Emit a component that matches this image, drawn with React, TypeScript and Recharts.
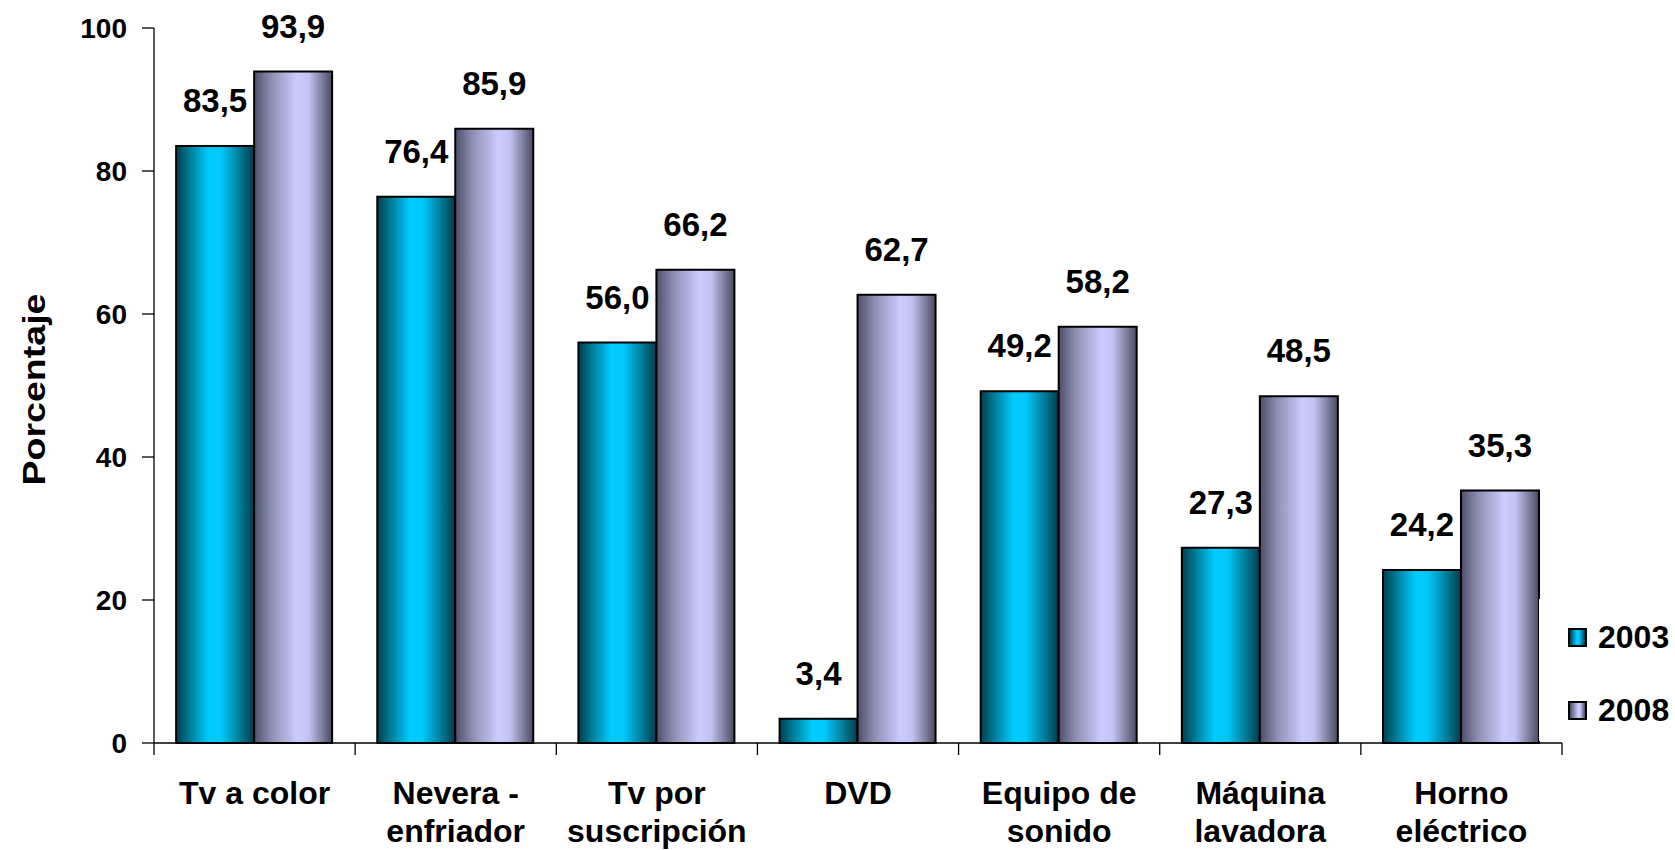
import React from "react";
import { BarChart, Bar, XAxis, YAxis, LabelList, Legend } from "recharts";

const categories = [
  "Tv a color",
  "Nevera -\nenfriador",
  "Tv por\nsuscripción",
  "DVD",
  "Equipo de\nsonido",
  "Máquina\nlavadora",
  "Horno\neléctrico",
];
const values2003 = [83.5, 76.4, 56.0, 3.4, 49.2, 27.3, 24.2];
const values2008 = [93.9, 85.9, 66.2, 62.7, 58.2, 48.5, 35.3];
const seriesNames = ["2003", "2008"];
const yTicks = [0, 20, 40, 60, 80, 100];

const data = categories.map((name, i) => ({
  name,
  y2003: values2003[i],
  y2008: values2008[i],
}));

const FONT = "'Liberation Sans', Arial, sans-serif";
const W = 1675;
const H = 850;
const Y_AXIS_W = 154;
const MARGIN = { top: 28, right: 113, left: 0, bottom: 0 };
const BAND = (W - MARGIN.right - Y_AXIS_W) / categories.length;

const fmt = (v: any) => Number(v).toFixed(1).replace(".", ",");

const XTick = (props: any) => {
  const { x, y, payload, index } = props;
  const lines = String(payload.value).split("\n");
  const half = BAND / 2;
  return (
    <g>
      <line x1={x - half} x2={x - half} y1={y} y2={y + 12} stroke="#000" strokeWidth={1.3} />
      {index === categories.length - 1 && (
        <line x1={x + half} x2={x + half} y1={y} y2={y + 12} stroke="#000" strokeWidth={1.3} />
      )}
      <text
        x={x}
        y={y + 61}
        textAnchor="middle"
        fill="#000"
        fontFamily={FONT}
        fontWeight="bold"
        fontSize={32}
      >
        {lines.map((l, i) => (
          <tspan key={i} x={x} dy={i === 0 ? 0 : 38}>
            {l}
          </tspan>
        ))}
      </text>
    </g>
  );
};

const YLabel = (props: any) => {
  const vb = props.viewBox || { x: 0, y: 28, width: 154, height: 715 };
  const cx = vb.x + 34;
  const cy = vb.y + vb.height / 2 + 4;
  return (
    <text
      transform={`translate(${cx}, ${cy}) rotate(-90)`}
      textAnchor="middle"
      dominantBaseline="central"
      fill="#000"
      fontFamily={FONT}
      fontWeight="bold"
      fontSize={31}
      textLength={192}
      lengthAdjust="spacingAndGlyphs"
    >
      Porcentaje
    </text>
  );
};

const legendFills = [
  "linear-gradient(to right, #003f4e, #00ccff 45%, #00ccff 60%, #003a48)",
  "linear-gradient(to right, #4e4e6a, #ccccff 55%, #c4c4f4 68%, #4a4a62)",
];

const LegendBox = () => (
  <div
    style={{
      fontFamily: FONT,
      background: "#fff",
      height: 142,
      boxSizing: "border-box",
      paddingLeft: 29,
      paddingTop: 20,
    }}
  >
    {seriesNames.map((s, i) => (
      <div
        key={s}
        style={{
          display: "flex",
          alignItems: "center",
          height: 37,
          marginBottom: 36,
        }}
      >
        <div
          style={{
            width: 15,
            height: 15,
            border: "2px solid #000",
            background: legendFills[i],
            marginRight: 11,
            flexShrink: 0,
          }}
        />
        <span style={{ fontSize: 32, fontWeight: "bold", color: "#000", whiteSpace: "nowrap" }}>{s}</span>
      </div>
    ))}
  </div>
);

export default function App() {
  return (
    <div
      style={{
        position: "absolute",
        left: 0,
        top: 0,
        width: W,
        height: H,
        overflow: "hidden",
        background: "#fff",
        fontFamily: FONT,
      }}
    >
      <BarChart width={W} height={H} data={data} margin={MARGIN} barCategoryGap="11%" barGap={0}>
        <defs>
          <linearGradient id="g2003" x1="0" y1="0" x2="1" y2="0">
            <stop offset="0%" stopColor="#003f4e" />
            <stop offset="15%" stopColor="#00748e" />
            <stop offset="42%" stopColor="#00ccff" />
            <stop offset="58%" stopColor="#00c8fa" />
            <stop offset="85%" stopColor="#00708a" />
            <stop offset="100%" stopColor="#003a48" />
          </linearGradient>
          <linearGradient id="g2008" x1="0" y1="0" x2="1" y2="0">
            <stop offset="0%" stopColor="#4e4e6a" />
            <stop offset="22%" stopColor="#8e8eb4" />
            <stop offset="55%" stopColor="#ccccff" />
            <stop offset="70%" stopColor="#c2c2f2" />
            <stop offset="88%" stopColor="#7a7a9a" />
            <stop offset="100%" stopColor="#4a4a62" />
          </linearGradient>
        </defs>
        <XAxis
          dataKey="name"
          height={107}
          axisLine={{ stroke: "#000", strokeWidth: 1.3 }}
          tickLine={false}
          tickSize={0}
          tickMargin={0}
          interval={0}
          tick={<XTick />}
        />
        <YAxis
          width={Y_AXIS_W}
          domain={[0, 100]}
          ticks={yTicks}
          interval={0}
          axisLine={{ stroke: "#000", strokeWidth: 1.3 }}
          tickLine={{ stroke: "#000", strokeWidth: 1.3 }}
          tickSize={12}
          tickMargin={15}
          tick={{ fill: "#000", fontSize: 28, fontWeight: "bold", fontFamily: FONT }}
          label={<YLabel />}
        />
        <Bar
          dataKey="y2003"
          name={seriesNames[0]}
          fill="url(#g2003)"
          stroke="#000"
          strokeWidth={2}
          isAnimationActive={false}
        >
          <LabelList
            dataKey="y2003"
            position="top"
            offset={34}
            formatter={fmt}
            fill="#000"
            fontSize={33}
            fontWeight="bold"
            fontFamily={FONT}
          />
        </Bar>
        <Bar
          dataKey="y2008"
          name={seriesNames[1]}
          fill="url(#g2008)"
          stroke="#000"
          strokeWidth={2}
          isAnimationActive={false}
        >
          <LabelList
            dataKey="y2008"
            position="top"
            offset={34}
            formatter={fmt}
            fill="#000"
            fontSize={33}
            fontWeight="bold"
            fontFamily={FONT}
          />
        </Bar>
        <Legend
          layout="horizontal"
          verticalAlign="middle"
          align="center"
          wrapperStyle={{ left: 1539, top: 599, width: 136 }}
          content={() => <LegendBox />}
        />
      </BarChart>
    </div>
  );
}
